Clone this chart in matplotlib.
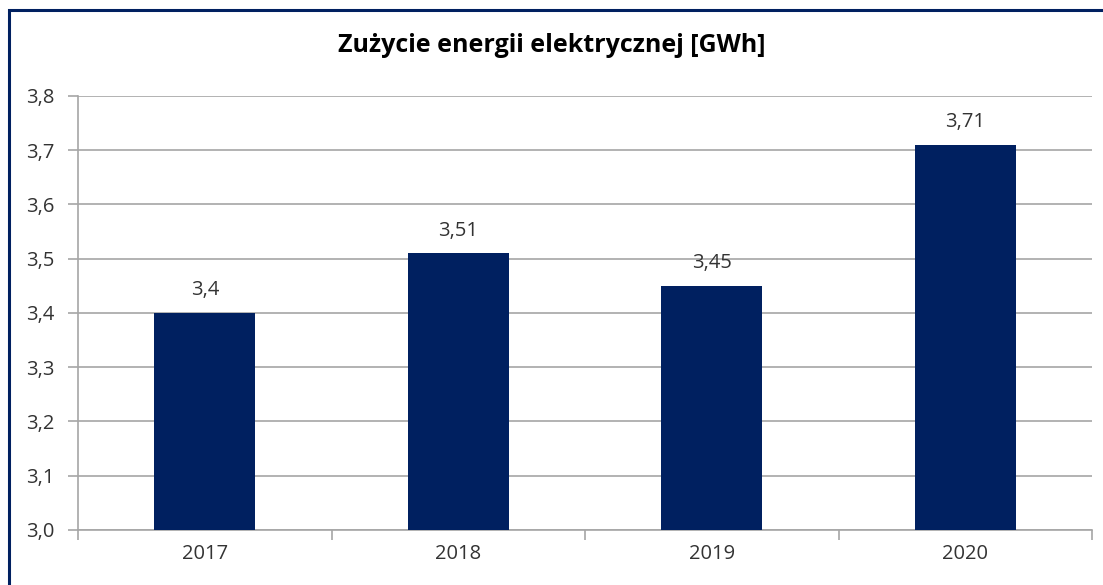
import numpy as np
import matplotlib
matplotlib.use("Agg")
import matplotlib.pyplot as plt
from matplotlib.ticker import FuncFormatter, FixedLocator
from matplotlib.patches import Rectangle

plt.rcParams['font.family'] = ['Open Sans', 'DejaVu Sans']

years = ['2017', '2018', '2019', '2020']
values = [3.4, 3.51, 3.45, 3.71]
value_labels = ['3,4', '3,51', '3,45', '3,71']

BAR_COLOR = '#002060'
GRID_COLOR = '#a6a6a6'
TEXT_COLOR = '#333333'
FONT_SIZE = 14.5

fig = plt.figure(figsize=(11.03, 5.85), dpi=100)
ax = fig.add_axes([78 / 1103, 1 - 530 / 585, (1092 - 78) / 1103, (530 - 96) / 585])

# frame around the whole chart (right and bottom edges are cut off)
fig.patches.append(Rectangle((9 / 1103, -0.1), 1.2, 1.1 - 10 / 585, transform=fig.transFigure,
                             fill=False, edgecolor=BAR_COLOR, linewidth=2.2))

x = np.arange(len(years))
ax.bar(x, np.array(values) - 3.0, bottom=3.0, width=0.4, color=BAR_COLOR, zorder=3)

for xi, v, lab in zip(x, values, value_labels):
    ax.annotate(lab, (xi, v), xytext=(0, 9), textcoords='offset points',
                ha='center', va='bottom', fontsize=FONT_SIZE, color=TEXT_COLOR)

ax.set_xlim(-0.5, len(years) - 0.5)
ax.set_ylim(3.0, 3.8)
ax.set_yticks(np.arange(3.0, 3.81, 0.1))
ax.yaxis.set_major_formatter(FuncFormatter(lambda v, p: f"{v:.1f}".replace('.', ',')))
ax.yaxis.grid(True, color=GRID_COLOR, linewidth=1.2, zorder=0)

ax.set_xticks(x)
ax.set_xticklabels(years)
ax.xaxis.set_minor_locator(FixedLocator(np.arange(-0.5, len(years), 1.0)))
ax.tick_params(axis='x', which='major', length=0, pad=10, labelsize=FONT_SIZE, labelcolor=TEXT_COLOR)
ax.tick_params(axis='x', which='minor', length=7, width=1.2, color=GRID_COLOR, direction='out')
ax.tick_params(axis='y', length=7, width=1.2, color=GRID_COLOR, direction='out', pad=10,
               labelsize=FONT_SIZE, labelcolor=TEXT_COLOR)

for side in ['top', 'right']:
    ax.spines[side].set_visible(False)
ax.spines['left'].set_color(GRID_COLOR)
ax.spines['left'].set_linewidth(1.2)
ax.spines['bottom'].set_color(GRID_COLOR)
ax.spines['bottom'].set_linewidth(1.2)

fig.text(0.5, 1 - 46 / 585, 'Zużycie energii elektrycznej [GWh]', ha='center', va='center',
         fontsize=18, fontweight='bold', color='black')

fig.savefig('out.png', dpi=100)
